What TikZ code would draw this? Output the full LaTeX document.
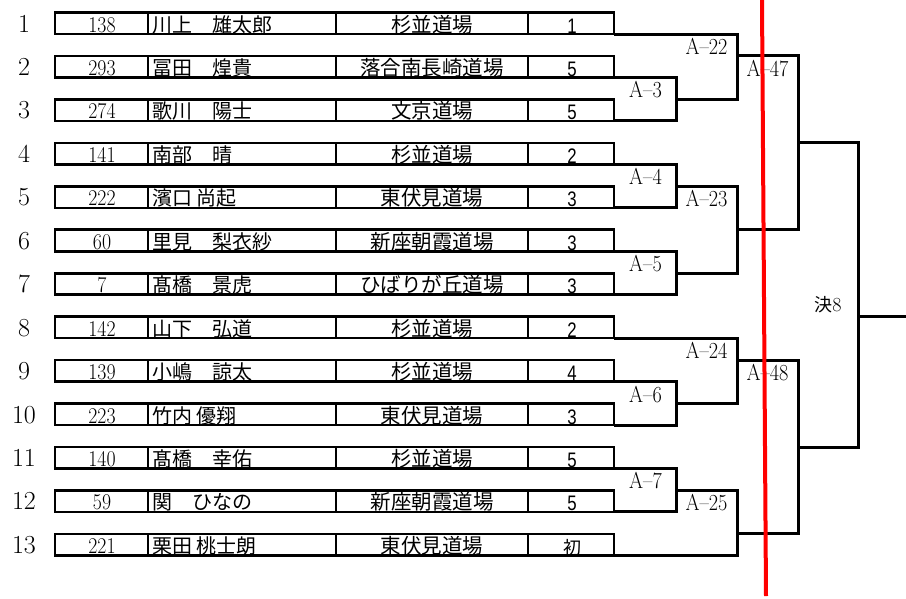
\documentclass[tikz,border=0pt]{standalone}
\usepackage{fontspec}
\newfontfamily\jpfont{Noto Sans CJK JP}
\newfontfamily\arialfont[FakeStretch=0.8]{Liberation Sans}
\newfontfamily\narrowserif[FakeStretch=0.88,Ligatures=TeX]{Latin Modern Roman}
\usepackage{tikz}

\begin{document}
\begin{tikzpicture}[x=1pt,y=-1pt,
    rowframe/.style={line width=2.6pt},
    divider/.style={line width=2pt},
    bracket/.style={line width=3pt},
    rownum/.style={anchor=base,inner sep=0,font=\fontsize{26}{26}\selectfont},
    idnum/.style={anchor=base,inner sep=0,font=\narrowserif\fontsize{22.5}{22}\selectfont},
    player/.style={anchor=base west,inner sep=0,font=\jpfont\fontsize{20}{20}\selectfont},
    dojo/.style={anchor=base,inner sep=0,font=\jpfont\fontsize{20.5}{20}\selectfont},
    grade/.style={anchor=base,inner sep=0,font=\arialfont\fontsize{21}{20}\selectfont},
    mlabel/.style={anchor=north,inner sep=0,xshift=-30.5pt,yshift=-4pt,font=\narrowserif\fontsize{23}{23}\selectfont}]
  \useasboundingbox (0,0) rectangle (906,598);
  % entry rows
  \foreach \i/\id/\name/\club/\dan in {
      1/138/川上　雄太郎/杉並道場/1,
      2/293/冨田　煌貴/落合南長崎道場/5,
      3/274/歌川　陽士/文京道場/5,
      4/141/南部　晴/杉並道場/2,
      5/222/濱口 尚起/東伏見道場/3,
      6/60/里見　梨衣紗/新座朝霞道場/3,
      7/7/髙橋　景虎/ひばりが丘道場/3,
      8/142/山下　弘道/杉並道場/2,
      9/139/小嶋　諒太/杉並道場/4,
      10/223/竹内 優翔/東伏見道場/3,
      11/140/髙橋　幸佑/杉並道場/5,
      12/59/関　ひなの/新座朝霞道場/5,
      13/221/栗田 桃士朗/東伏見道場/{\jpfont\fontsize{18}{18}\selectfont 初}}{
    \pgfmathsetmacro\rowT{12.5+43.45*(\i-1)}
    \pgfmathsetmacro\rowB{\rowT+21.5}
    \coordinate (t\i) at (614,\rowT);
    \coordinate (b\i) at (614,\rowB);
    \draw[rowframe] (55,\rowT) rectangle (b\i);
    \foreach \x in {148,336,528}
      \draw[divider] (\x,\rowT) -- (\x,\rowB);
    \node[rownum] (num\i) at (24,\rowB-2) {\i};
    \node[idnum] (id\i) at (102,\rowB-2) {\id};
    \node[player] (name\i) at (152,\rowB-2) {\name};
    \node[dojo] (club\i) at (432,\rowB-2) {\club};
    \node[grade] (dan\i) at (572,\rowB-1) {\dan};
  }
  % match points
  \coordinate (A3) at (676,0 |- t3);
  \coordinate (A4) at (676,0 |- t5);
  \coordinate (A5) at (676,0 |- t7);
  \coordinate (A6) at (676,0 |- t10);
  \coordinate (A7) at (676,0 |- t12);
  \coordinate (A22) at (737,0 |- t2);
  \coordinate (A23) at (737,0 |- t6);
  \coordinate (A24) at (737,0 |- t9);
  \coordinate (A25) at (737,0 |- t13);
  \coordinate (A47) at (798,0 |- t4);
  \coordinate (A48) at (798,0 |- t11);
  \coordinate (K8) at (858,0 |- t8);
  \coordinate (out) at (906,0 |- t8);
  % brackets
  \draw[bracket] (b2) -| (A3) |- (b3);
  \draw[bracket] (b4) -| (A4) |- (b5);
  \draw[bracket] (b6) -| (A5) |- (b7);
  \draw[bracket] (b9) -| (A6) |- (b10);
  \draw[bracket] (b11) -| (A7) |- (b12);
  \draw[bracket] (b1) -| (A22) |- (A3);
  \draw[bracket] (A4) -| (A23) |- (A5);
  \draw[bracket] (b8) -| (A24) |- (A6);
  \draw[bracket] (A7) -| (A25) |- (b13);
  \draw[bracket] (A22) -| (A47) |- (A23);
  \draw[bracket] (A24) -| (A48) |- (A25);
  \draw[bracket] (A47) -| (K8) |- (A48);
  \draw[bracket] (K8) -- (out);
  % match labels
  \node[mlabel] (lA3) at (A3 |- b2) {A--3};
  \node[mlabel] (lA4) at (A4 |- b4) {A--4};
  \node[mlabel] (lA5) at (A5 |- b6) {A--5};
  \node[mlabel] (lA6) at (A6 |- b9) {A--6};
  \node[mlabel] (lA7) at (A7 |- b11) {A--7};
  \node[mlabel] (lA22) at (A22 |- b1) {A--22};
  \node[mlabel] (lA23) at (A23 |- A4) {A--23};
  \node[mlabel] (lA24) at (A24 |- b8) {A--24};
  \node[mlabel] (lA25) at (A25 |- A7) {A--25};
  \node[mlabel] (lA47) at (A47 |- A22) {A--47};
  \node[mlabel] (lA48) at (A48 |- A24) {A--48};
  \node[anchor=south,inner sep=0,xshift=-30pt,yshift=3pt,font=\fontsize{20}{20}\selectfont] (lK8) at (K8) {{\jpfont\fontsize{18}{18}\selectfont 決}8};
  % red marker line
  \coordinate (redtop) at (762,0);
  \coordinate (redbot) at (766,596);
  \draw[red,line width=4pt] (redtop) -- (redbot);
\end{tikzpicture}
\end{document}
